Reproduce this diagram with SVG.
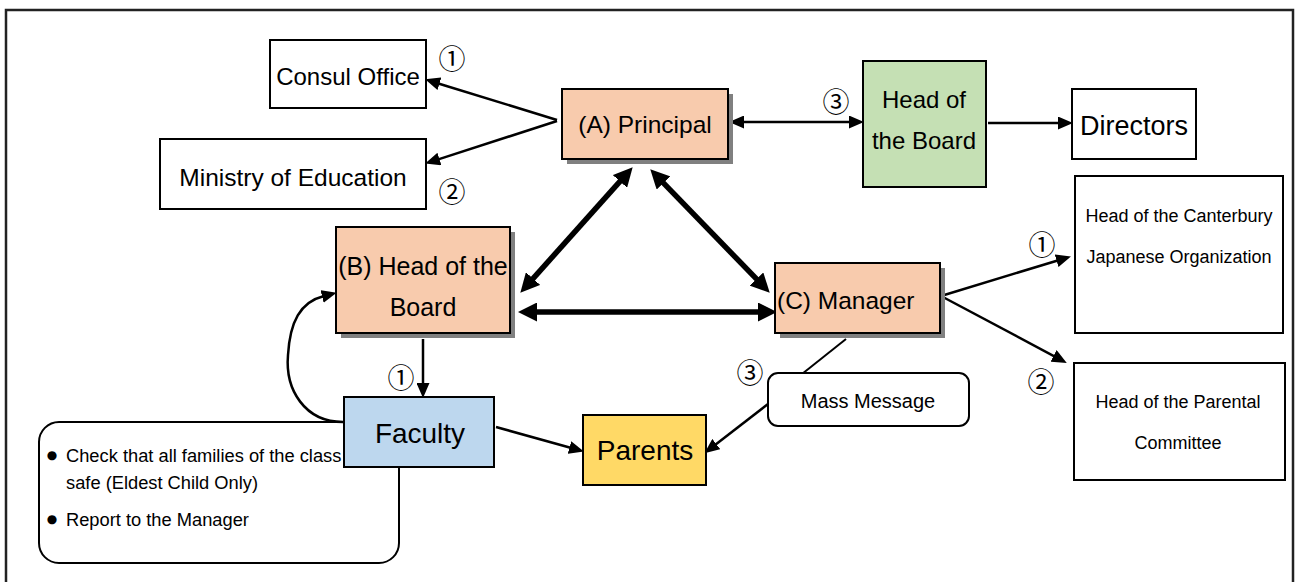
<svg xmlns="http://www.w3.org/2000/svg" width="1295" height="582" viewBox="0 0 1295 582">
<defs>
<style>
.box{stroke:#000;stroke-width:2}
.sh{fill:#808080}
.t{font-family:"Liberation Sans",Arial,sans-serif;fill:#000;text-anchor:middle;dominant-baseline:central}
.b{font-family:"DejaVu Sans",sans-serif;font-size:12px;fill:#000;text-anchor:middle;dominant-baseline:central}
.n{font-family:"Noto Sans CJK JP","DejaVu Sans",sans-serif;font-size:27px;fill:#000;text-anchor:middle;dominant-baseline:central}
.thin{stroke:#000;stroke-width:2.5;fill:none}
.thick{stroke:#000;stroke-width:5.5;fill:none}
</style>
<marker id="ah" markerUnits="userSpaceOnUse" markerWidth="15" markerHeight="13" refX="2" refY="6.5" orient="auto-start-reverse" viewBox="0 0 15 13">
<path d="M0,0 L15,6.5 L0,13 z" fill="#000"/>
</marker>
<marker id="ahb" markerUnits="userSpaceOnUse" markerWidth="19" markerHeight="19" refX="3" refY="9.5" orient="auto-start-reverse" viewBox="0 0 19 19">
<path d="M0,0 L19,9.5 L0,19 z" fill="#000"/>
</marker>
</defs>
<rect x="0" y="0" width="1295" height="582" fill="#fff"/>
<rect id="frame" x="6" y="10" width="1287" height="590" fill="none" stroke="#222" stroke-width="2.5"/>

<g id="callout">
<rect x="39" y="422" width="360" height="141" rx="20" fill="#fff" stroke="#000" stroke-width="2"/>
<text class="b" x="52" y="455">●</text>
<text class="t" x="66" y="455" font-size="18.3" style="text-anchor:start">Check that all families of the class</text>
<text class="t" x="66" y="482" font-size="18.3" style="text-anchor:start">safe (Eldest Child Only)</text>
<text class="b" x="52" y="519">●</text>
<text class="t" x="66" y="519" font-size="18.3" style="text-anchor:start">Report to the Manager</text>
</g>

<g id="connectors">
<line class="thin" x1="557" y1="120" x2="437.5" y2="83.2" marker-end="url(#ah)"/>
<line class="thin" x1="557" y1="121" x2="437.5" y2="159.6" marker-end="url(#ah)"/>
<line class="thin" x1="742" y1="122" x2="851" y2="122" marker-start="url(#ah)" marker-end="url(#ah)"/>
<line class="thin" x1="988" y1="123" x2="1060" y2="123" marker-end="url(#ah)"/>
<line class="thick" x1="622" y1="179.2" x2="531" y2="280.8" marker-start="url(#ahb)" marker-end="url(#ahb)"/>
<line class="thick" x1="661.4" y1="180.8" x2="758.6" y2="281.2" marker-start="url(#ahb)" marker-end="url(#ahb)"/>
<line class="thick" x1="534" y1="312" x2="761" y2="312" marker-start="url(#ahb)" marker-end="url(#ahb)"/>
<line class="thin" x1="941" y1="296" x2="1058.5" y2="260.2" marker-end="url(#ah)"/>
<line class="thin" x1="941" y1="296" x2="1055.3" y2="356.8" marker-end="url(#ah)"/>
<line class="thin" x1="846" y1="339" x2="802" y2="374" style="stroke-width:2"/>
<line class="thin" x1="768" y1="404" x2="714.7" y2="445.3" marker-end="url(#ah)"/>
<line class="thin" x1="423" y1="339" x2="423" y2="385" marker-end="url(#ah)"/>
<line class="thin" x1="496" y1="427" x2="571.4" y2="448" marker-end="url(#ah)"/>
<path class="thin" d="M343,422 C305,422 285,390 288,355 C290,322 300,302 324,296" marker-end="url(#ah)"/>
</g>

<g id="consul">
<rect class="box" x="270" y="40" width="156" height="68" fill="#fff"/>
<text class="t" x="348" y="76" font-size="24">Consul Office</text>
</g>
<g id="ministry">
<rect class="box" x="160" y="139" width="266" height="70" fill="#fff"/>
<text class="t" x="293" y="177" font-size="24.5">Ministry of Education</text>
</g>
<g id="principal">
<rect class="sh" x="567" y="94" width="166" height="70"/>
<rect class="box" x="562" y="89" width="166" height="70" fill="#F8CBAD"/>
<text class="t" x="645" y="124" font-size="24.5">(A) Principal</text>
</g>
<g id="headboard">
<rect class="box" x="863" y="61" width="123" height="126" fill="#C5E0B4"/>
<text class="t" x="924" y="99" font-size="24">Head of</text>
<text class="t" x="924" y="140" font-size="24">the Board</text>
</g>
<g id="directors">
<rect class="box" x="1072" y="89" width="124" height="70" fill="#fff"/>
<text class="t" x="1134" y="126" font-size="27">Directors</text>
</g>
<g id="canterbury">
<rect class="box" x="1075" y="176" width="208" height="157" fill="#fff"/>
<text class="t" x="1179" y="216" font-size="18">Head of the Canterbury</text>
<text class="t" x="1179" y="257" font-size="18">Japanese Organization</text>
</g>
<g id="boardB">
<rect class="sh" x="341" y="232" width="174" height="106"/>
<rect class="box" x="336" y="227" width="174" height="106" fill="#F8CBAD"/>
<text class="t" x="423" y="266" font-size="25">(B) Head of the</text>
<text class="t" x="423" y="307" font-size="25">Board</text>
</g>
<g id="manager">
<rect class="sh" x="780" y="268" width="165" height="70"/>
<rect class="box" x="775" y="263" width="165" height="70" fill="#F8CBAD"/>
<text class="t" x="777" y="300" font-size="24.5" style="text-anchor:start">(C) Manager</text>
</g>
<g id="parental">
<rect class="box" x="1074" y="363" width="211" height="117" fill="#fff"/>
<text class="t" x="1178" y="402" font-size="18">Head of the Parental</text>
<text class="t" x="1178" y="443" font-size="18">Committee</text>
</g>
<g id="massmessage">
<rect class="box" x="768" y="373" width="201" height="53" rx="10" fill="#fff"/>
<text class="t" x="868" y="401" font-size="20">Mass Message</text>
</g>
<g id="faculty">
<rect class="box" x="344" y="397" width="150" height="70" fill="#BDD7EE"/>
<text class="t" x="420" y="433" font-size="28">Faculty</text>
</g>
<g id="parents">
<rect class="box" x="583" y="415" width="123" height="70" fill="#FFD966"/>
<text class="t" x="645" y="450" font-size="28">Parents</text>
</g>

<g id="labels">
<text class="n" x="452" y="57">①</text>
<text class="n" x="452" y="190">②</text>
<text class="n" x="836" y="100">③</text>
<text class="n" x="1042" y="243">①</text>
<text class="n" x="1041" y="380">②</text>
<text class="n" x="750" y="371">③</text>
<text class="n" x="401" y="376">①</text>
</g>
</svg>
